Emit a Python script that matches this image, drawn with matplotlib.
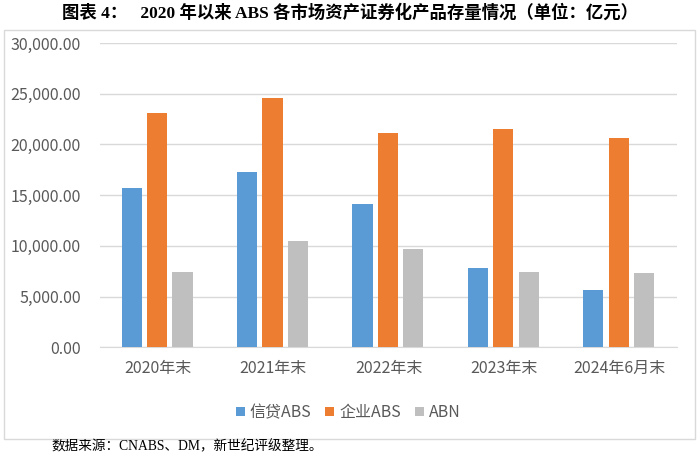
import numpy as np
import matplotlib.pyplot as plt
from matplotlib.patches import Rectangle
from matplotlib.ticker import FuncFormatter

plt.rcParams['font.family'] = ['Noto Sans CJK SC', 'DejaVu Sans']

# data (亿元)
categories = ['2020年末', '2021年末', '2022年末', '2023年末', '2024年6月末']
series_names = ['信贷ABS', '企业ABS', 'ABN']
credit_abs = [15750, 17330, 14170, 7860, 5620]
corp_abs = [23050, 24620, 21170, 21500, 20640]
abn = [7430, 10450, 9730, 7430, 7330]
colors = ['#5B9BD5', '#ED7D31', '#BFBFBF']

fig = plt.figure(figsize=(7, 4.57), dpi=100)

# outer chart frame
fig.patches.append(Rectangle((0.005, 0.04), 0.988, 0.895, transform=fig.transFigure,
                             fill=False, edgecolor='#D9D9D9', linewidth=1))

ax = fig.add_axes([0.143, 0.24, 0.824, 0.666])

x = np.arange(len(categories))
width = 0.175
offsets = [-0.225, -0.005, 0.215]
for vals, name, col, off in zip([credit_abs, corp_abs, abn], series_names, colors, offsets):
    ax.bar(x + off, vals, width, color=col, label=name, zorder=3)

ax.set_ylim(0, 30000)
ax.set_xlim(-0.5, len(categories) - 0.5)
ax.set_yticks(np.arange(0, 30001, 5000))
ax.yaxis.set_major_formatter(FuncFormatter(lambda v, p: f'{v:,.2f}'))
ax.set_xticks(x)
ax.set_xticklabels(categories)
ax.grid(axis='y', color='#D9D9D9', linewidth=1, zorder=0)
for s in ['top', 'right', 'left']:
    ax.spines[s].set_visible(False)
ax.spines['bottom'].set_color('#D9D9D9')
ax.tick_params(axis='both', length=0, labelsize=11.5, colors='#595959', pad=9)
ax.tick_params(axis='y', pad=14)

leg = ax.legend(loc='center', bbox_to_anchor=(0.43, -0.215), ncol=3, frameon=False,
                fontsize=11.5, handlelength=0.55, handleheight=0.55, handletextpad=0.3,
                columnspacing=0.9)
for t in leg.get_texts():
    t.set_color('#595959')

fig.text(0.5, 0.972, '图表 4：   2020 年以来 ABS 各市场资产证券化产品存量情况（单位：亿元）',
         ha='center', va='center', fontsize=12.5, fontweight='bold',
         family=['Liberation Serif', 'Noto Sans CJK SC'])
fig.text(0.074, 0.022, '数据来源：CNABS、DM，新世纪评级整理。', ha='left', va='center',
         fontsize=9.8, family=['Liberation Serif', 'Noto Sans CJK SC'])

fig.savefig('out.png', dpi=100)
